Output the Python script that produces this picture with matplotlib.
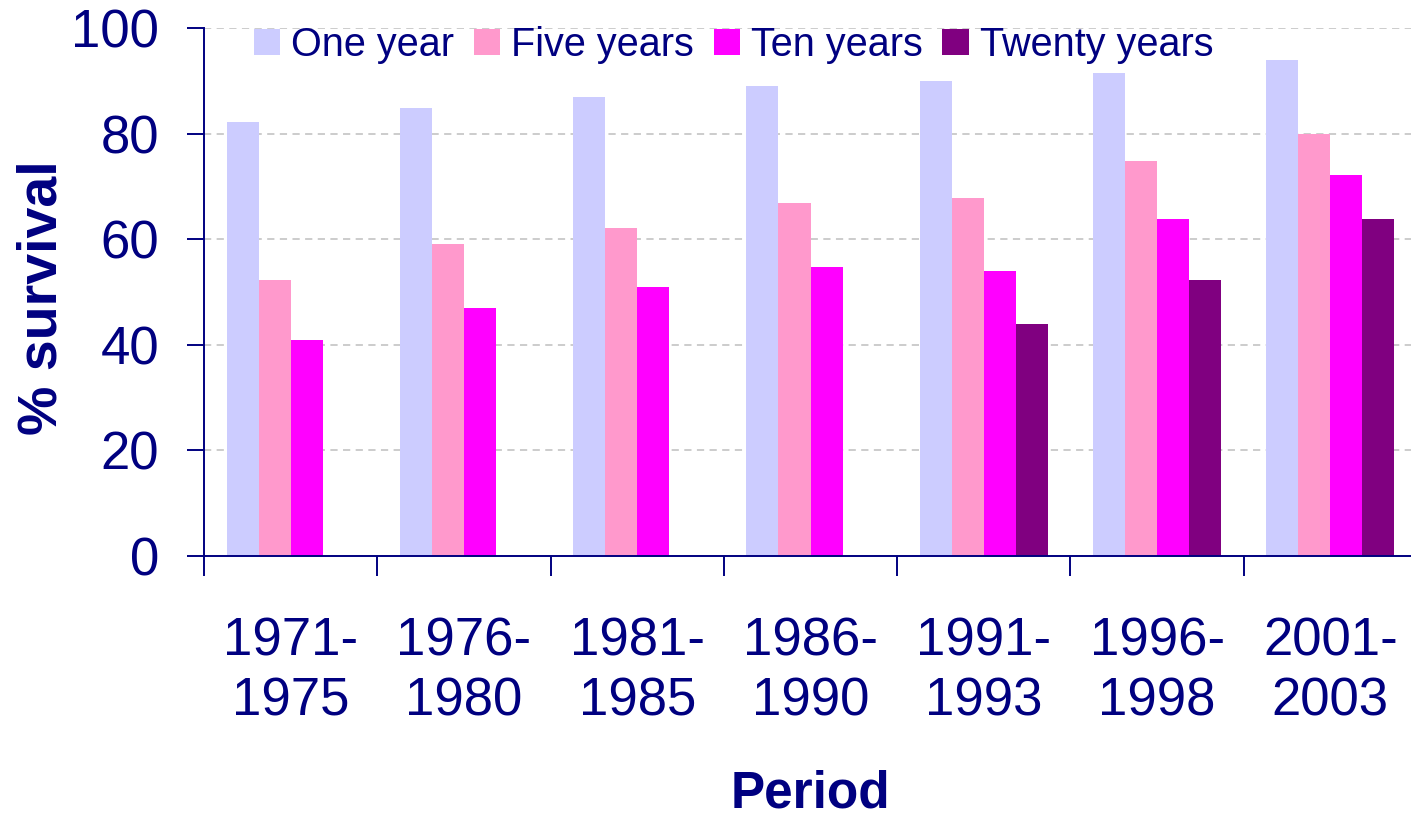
import numpy as np
import matplotlib.pyplot as plt

# data
periods = ["1971-\n1975", "1976-\n1980", "1981-\n1985", "1986-\n1990",
           "1991-\n1993", "1996-\n1998", "2001-\n2003"]
series_names = ["One year", "Five years", "Ten years", "Twenty years"]
one_year = [82.2, 84.9, 87.0, 89.1, 90.0, 91.5, 94.0]
five_years = [52.3, 59.1, 62.1, 66.9, 67.8, 74.8, 80.0]
ten_years = [40.9, 47.0, 51.0, 54.8, 54.0, 63.8, 72.2]
twenty_years = [np.nan, np.nan, np.nan, np.nan, 43.9, 52.3, 63.8]
colors = ["#CCCCFF", "#FF99CC", "#FF00FF", "#800080"]

navy = "#000080"
plt.rcParams['font.family'] = ['Liberation Sans', 'DejaVu Sans']

fig = plt.figure(figsize=(14.11, 8.27), dpi=100)
ax = fig.add_axes([204 / 1411, 1 - 555.8 / 827, 1213 / 1411, 527.5 / 827])

x = np.arange(len(periods))
w = 0.185
all_series = [one_year, five_years, ten_years, twenty_years]
for k, (vals, name, c) in enumerate(zip(all_series, series_names, colors)):
    ax.bar(x + (k - 1.5) * w, vals, width=w, color=c, label=name, zorder=2)

ax.set_xlim(-0.5, len(periods) - 0.5)
ax.set_ylim(0, 100)
ax.set_yticks(range(0, 101, 20))
ax.yaxis.grid(True, color="#c8c8c8", linestyle=(0, (4, 3)), linewidth=1.3)
ax.set_axisbelow(True)

for s in ["top", "right"]:
    ax.spines[s].set_visible(False)
for s in ["left", "bottom"]:
    ax.spines[s].set_color(navy)
    ax.spines[s].set_linewidth(1.4)

# category labels at centres, tick marks at group boundaries
ax.set_xticks(x)
ax.set_xticklabels(periods, fontsize=38, color=navy, linespacing=1.25)
ax.tick_params(axis="x", which="major", length=0, pad=44)
ax.set_xticks(np.arange(-0.5, len(periods), 1.0), minor=True)
ax.tick_params(axis="x", which="minor", length=14.4, width=1.4, color=navy,
               direction="out")
ax.tick_params(axis="y", length=12.2, width=1.4, color=navy, labelcolor=navy,
               labelsize=38, pad=20)

ax.set_xlabel("Period", fontsize=37, fontweight="bold", color=navy)
ax.xaxis.set_label_coords(0.5, -0.405)
ax.set_ylabel("% survival", fontsize=40, fontweight="bold", color=navy)
ax.yaxis.set_label_coords(-0.112, 0.49)

leg = ax.legend(loc="center", bbox_to_anchor=(733.5 / 1411, 1 - 45 / 827),
                bbox_transform=fig.transFigure, ncol=4, frameon=False,
                fontsize=28.5, handlelength=0.66, handleheight=0.66,
                handletextpad=0.28, columnspacing=0.5, borderpad=0)
for t in leg.get_texts():
    t.set_color(navy)

fig.savefig("out.png", dpi=100)
